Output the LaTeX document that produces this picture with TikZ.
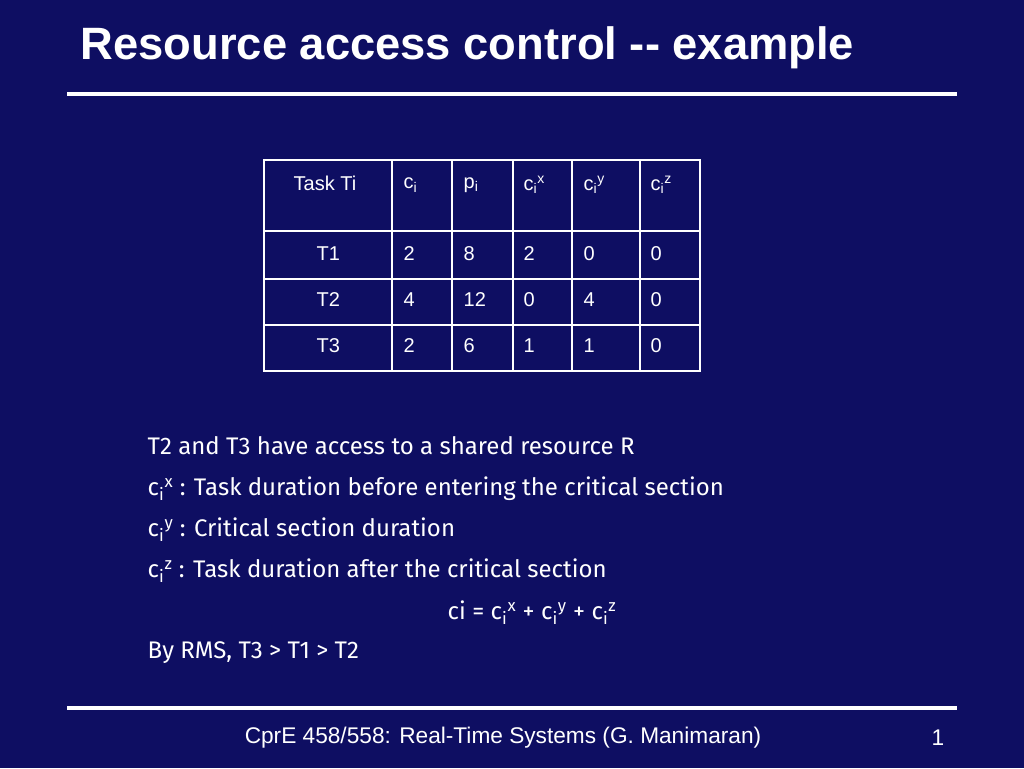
\documentclass[tikz,border=0pt]{standalone}
\usepackage{fontspec}
\setmainfont{Liberation Sans}
\newfontfamily\bodyfont{Fira Sans}
\definecolor{bg}{RGB}{14,14,98}
\tikzset{cell/.style={anchor=west,text=white,font=\fontsize{15}{18}\selectfont},
 body/.style={anchor=west,text=white,font=\bodyfont\fontsize{18}{21}\selectfont},
 rule/.style={draw=white,line width=3pt}}
\newcommand{\sub}[2]{#1\textsubscript{i}\textsuperscript{#2}}
\begin{document}
\begin{tikzpicture}[x=0.75pt,y=-0.75pt]
\fill[bg] (0,0) rectangle (1024,768);
\useasboundingbox (0,0) rectangle (1024,768);
\node[anchor=west,text=white,font=\bfseries\fontsize{34}{40}\selectfont] (title) at (76,48) {Resource access control {-}{-} example};
\coordinate (r1a) at (67,94); \coordinate (r1b) at (957,94);
\draw[rule] (r1a) -- (r1b);
\coordinate (r2a) at (67,708); \coordinate (r2b) at (957,708);
\draw[rule] (r2a) -- (r2b);
% table
\draw[white,line width=1pt] (264,160) rectangle (700,371);
\foreach \x in {392,452,513,572,640} \draw[white,line width=1pt] (\x,160) -- (\x,371);
\foreach \y in {231,279,325} \draw[white,line width=1pt] (264,\y) -- (700,\y);
\node[cell] (h0) at (289,183) {Task Ti};
\node[cell] (h1) at (399,185) {c\textsubscript{i}};
\node[cell] (h2) at (459,185) {p\textsubscript{i}};
\node[cell] (h3) at (519,185) {\sub{c}{x}};
\node[cell] (h4) at (579,185) {\sub{c}{y}};
\node[cell] (h5) at (646,185) {\sub{c}{z}};
\foreach \r/\y/\a/\b/\c/\d/\e/\f in {1/254/T1/2/8/2/0/0, 2/300/T2/4/12/0/4/0, 3/346/T3/2/6/1/1/0}{
 \node[cell] (t\r a) at (312,\y) {\a};
 \node[cell] (t\r b) at (399,\y) {\b};
 \node[cell] (t\r c) at (459,\y) {\c};
 \node[cell] (t\r d) at (519,\y) {\d};
 \node[cell] (t\r e) at (579,\y) {\e};
 \node[cell] (t\r f) at (646,\y) {\f};
}
\node[body] (l1) at (143,446) {T2 and T3 have access to a shared resource R};
\node[body] (l2) at (143,489) {\sub{c}{x} : Task duration before entering the critical section};
\node[body] (l3) at (143,530) {\sub{c}{y} : Critical section duration};
\node[body] (l4) at (143,571) {\sub{c}{z} : Task duration after the critical section};
\node[body] (l5) at (443,613) {ci = \sub{c}{x} + \sub{c}{y} + \sub{c}{z}};
\node[body] (l6) at (143,653) {By RMS, T3 > T1 > T2};
\node[text=white,font=\fontsize{17}{20}\selectfont] (foot) at (503,738) {CprE 458/558: Real-Time Systems (G. Manimaran)};
\node[text=white,font=\fontsize{17}{20}\selectfont] (num) at (938,738) {1};
\end{tikzpicture}
\end{document}
